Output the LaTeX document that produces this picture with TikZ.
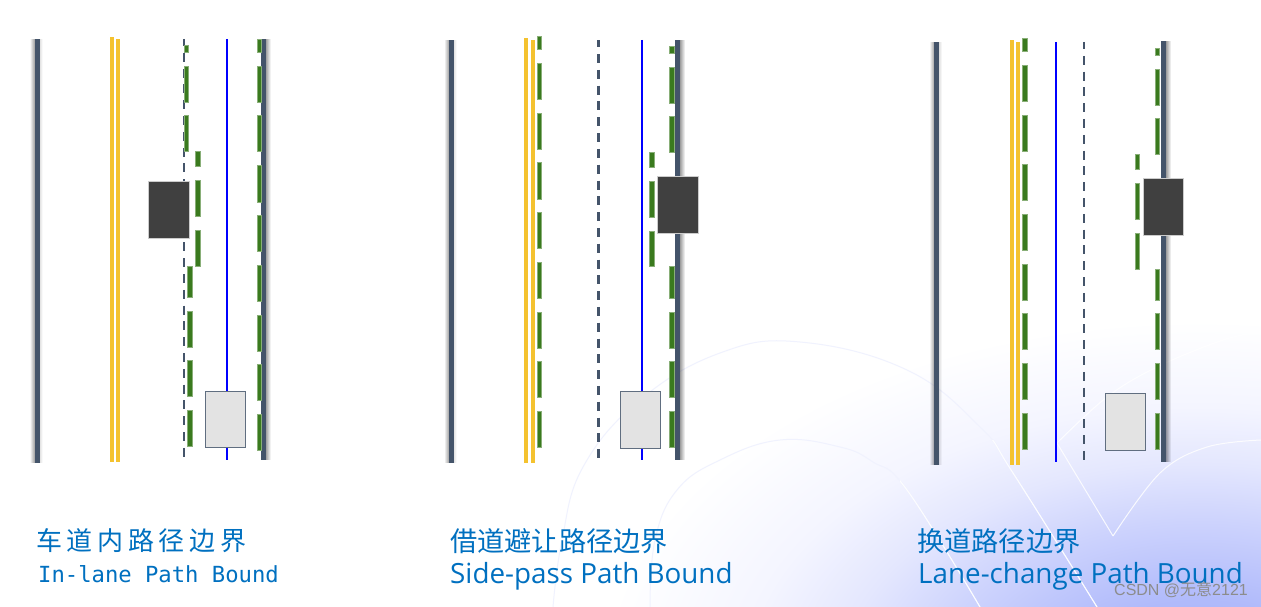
\documentclass[tikz,border=0pt]{standalone}
\usepackage{fontspec}
\usetikzlibrary{fadings}
\setmainfont{Open Sans}
\newfontfamily\cjkA[LetterSpace=18]{Noto Sans CJK SC}
\newfontfamily\cjkB{Noto Sans CJK SC}
\newfontfamily\monoA{DejaVu Sans Mono}
\newfontfamily\wmA{Liberation Sans}
\definecolor{roadc}{HTML}{44546A}
\definecolor{yellowc}{HTML}{F4C22F}
\definecolor{greenc}{HTML}{3A7A1E}
\definecolor{boxdark}{HTML}{404040}
\definecolor{boxlight}{HTML}{E3E3E3}
\definecolor{textblue}{HTML}{0070C0}
\definecolor{glowa}{HTML}{A3AFFA}
\definecolor{glowb}{HTML}{B0BAFB}
\definecolor{glowc}{HTML}{CDD3FD}
\definecolor{glowd}{HTML}{E4E7FE}
\definecolor{glowe}{HTML}{F4F5FF}
\pgfdeclareradialshading{bgglow}{\pgfpointorigin}{color(0bp)=(glowa); color(5.5bp)=(glowb); color(11bp)=(glowc); color(15bp)=(glowd); color(19bp)=(glowe); color(25bp)=(white); color(50bp)=(white)}
\tikzset{
  roadline/.style={fill=roadc},
  yellowline/.style={fill=yellowc},
  greenseg/.style={fill=greenc,draw=greenc!60!white,line width=.4pt},
  lanedash/.style={draw=roadc,line width=2.6pt,dash pattern=on 9pt off 6.8pt,dash phase=2pt},
  pathline/.style={draw=blue,line width=2pt},
  obstacle/.style={fill=boxdark,draw=white!80!black,line width=.4pt},
  egocar/.style={fill=boxlight,draw=roadc!85!white,line width=1pt},
  cjklabel/.style={anchor=base west,inner sep=0pt,text=textblue},
  enlabel/.style={anchor=base west,inner sep=0pt,text=textblue},
  softarc/.style={draw=glowa!16!white,line width=1pt},
  whitearc/.style={draw=white,line width=1pt,opacity=.85}
}
\newcommand{\gsegs}[2]{\foreach \a/\b in {#2}{\path[greenseg] ({#1-2.35},\a) rectangle ({#1+2.35},\b);}}
\newcommand{\roadleft}[4]{%
  \fill[black,opacity=.38,path fading=west] ({#1-5},#3) rectangle (#1,#4);
  \fill[black,opacity=.12,path fading=east] (#2,#3) rectangle ({#2+3},#4);
  \path[roadline] (#1,#3) rectangle (#2,#4);}
\newcommand{\roadright}[4]{%
  \fill[black,opacity=.38,path fading=east] (#2,#3) rectangle ({#2+5},#4);
  \path[roadline] (#1,#3) rectangle (#2,#4);}
\newcommand{\arcone}{plot[smooth,tension=.7] coordinates {(553,607) (562,540) (583,467) (640,400) (720,353) (800,342) (907,370) (980,427) (1013,473) (1097,607)}}
\newcommand{\arctwo}{plot[smooth,tension=.7] coordinates {(650,607) (655,540) (677,490) (720,460) (780,440) (840,447) (873,462) (907,490) (980,607)}}
\begin{document}
\begin{tikzpicture}[x=1pt,y=-1pt]
\useasboundingbox (0,0) rectangle (1261,607);
\fill[white] (0,0) rectangle (1261,607);
% background
\begin{scope}
\clip (0,0) rectangle (1261,607);
\shade[shading=bgglow] (600,320) rectangle (1800,1040);
\draw[softarc] \arcone;
\draw[softarc] \arctwo;
\begin{scope}
\clip (900,440) rectangle (1261,607);
\draw[whitearc] \arcone;
\draw[whitearc] \arctwo;
\end{scope}
\draw[whitearc,line join=miter] plot[smooth,tension=.6] coordinates {(1261,332) (1223,340) (1157,367) (1107,397) (1057,443)} -- (1113,536);
\draw[whitearc] plot[smooth,tension=.6] coordinates {(1113,536) (1160,473) (1207,447) (1261,440)};
\end{scope}
% panel 1
\roadleft{34.7}{39.6}{38.7}{462.7}
\roadright{261.3}{265.7}{39}{459.5}
\draw[lanedash] (184,39) -- (184,457);
\draw[pathline] (227,39) -- (227,459.7);
\path[yellowline] (110,37) rectangle (114,462);
\path[yellowline] (116,39) rectangle (120,462);
\gsegs{186.3}{45.3/52.3,66/102,115.7/151.7}
\gsegs{197.5}{151.7/166.3,180.3/216,229.7/265.7}
\gsegs{189.5}{265.7/297,310.7/346.7,360.3/396.3,410/446}
\gsegs{259.2}{39.3/52.7,66/102,115.7/151.7,165.7/201.7,215.3/251.3,265/301,314.7/350.7,364/400,413.7/449.7}
\path[obstacle] (148.5,181) rectangle (189.3,238.3);
\path[egocar] (205.9,391) rectangle (245.7,447);
% panel 2
\roadleft{449}{453.6}{40}{463}
\roadright{675.3}{680}{40}{460.3}
\draw[lanedash] (598.5,40.3) -- (598.5,457.7);
\draw[pathline] (642,40) -- (642,459.7);
\path[yellowline] (524,38) rectangle (528,462.7);
\path[yellowline] (531,40) rectangle (535,462.7);
\gsegs{539.3}{36.3/49.7,63.3/99.3,113/149,162.7/198.7,212.3/248,262/298,311.7/347.7,361.3/397,410.7/446.7}
\gsegs{671.8}{46.3/53.3,67/103,116.7/152.7}
\gsegs{651.8}{152.7/167.3,181/217,230.7/266.3}
\gsegs{671.8}{266.3/297.7,311.7/347.7,361/397,410.7/446.7}
\path[obstacle] (657.4,176) rectangle (698,233);
\path[egocar] (620.4,391.7) rectangle (660.3,448);
% panel 3
\roadleft{934.3}{939}{42}{465}
\roadright{1161.3}{1166}{41}{462.3}
\draw[lanedash] (1084,42) -- (1084,460);
\draw[pathline] (1056,42) -- (1056,461.7);
\path[yellowline] (1010,40) rectangle (1014,465);
\path[yellowline] (1016,42) rectangle (1020,465);
\gsegs{1024.5}{38.3/51.7,65.3/101,115/151,164.3/200,214/250,263.7/299.7,313.3/349.3,363/399,412.7/448.7}
\gsegs{1157.3}{48.3/55.3,69/105,118.7/154.7}
\gsegs{1137.3}{154.7/169.3,183/219,232.7/268.7}
\gsegs{1157.3}{268.7/300,313.3/349.3,363.3/399,412.7/448.7}
\path[obstacle] (1142.8,178) rectangle (1183.3,235);
\path[egocar] (1105.8,393.7) rectangle (1145.7,450);
% labels
\node[cjklabel] (t1a) at (36,550) {\fontsize{26}{30}\cjkA 车道内路径边界};
\node[enlabel] (t1b) at (38,582) {\fontsize{22.2}{26}\monoA In-lane Path Bound};
\node[cjklabel] (t2a) at (450,551) {\fontsize{27.2}{30}\cjkB 借道避让路径边界};
\node[enlabel] (t2b) at (450,583) {\fontsize{27.8}{30}\selectfont Side-pass Path Bound};
\node[cjklabel] (t3a) at (917,551) {\fontsize{27.2}{30}\cjkB 换道路径边界};
\node[enlabel] (t3b) at (918,583) {\fontsize{27.8}{30}\selectfont Lane-change Path Bound};
\node[anchor=base west,inner sep=0pt,text=black!45] (wm) at (1114,595) {\fontsize{16}{18}\wmA CSDN @{\cjkB 无意}2121};
\end{tikzpicture}
\end{document}
